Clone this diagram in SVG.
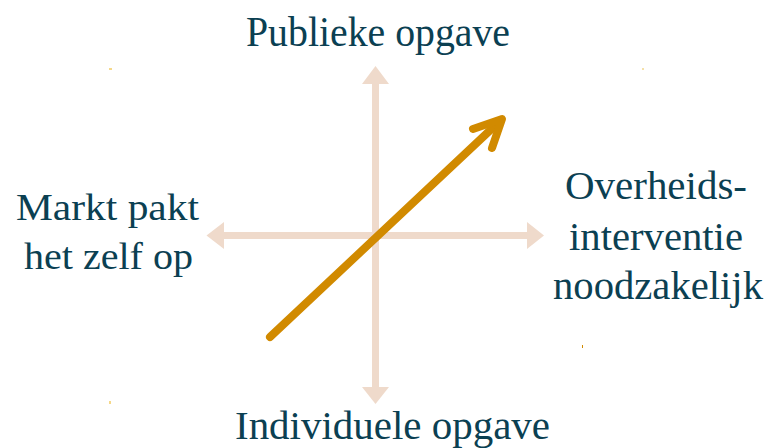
<svg xmlns="http://www.w3.org/2000/svg" width="768" height="448" viewBox="0 0 768 448">
<style>
.lbl{font-family:"Liberation Serif","Times New Roman",serif;fill:#0b4052;text-anchor:middle}
.axis{stroke:#efdacb;stroke-width:7;fill:none}
.head{fill:#efdacb}
.diag{stroke:#d18a00;stroke-width:8;fill:none;stroke-linecap:round;stroke-linejoin:round}
</style>
<rect width="768" height="448" fill="#ffffff"/>
<g id="connectors">
<line class="axis" x1="375.5" y1="82" x2="375.5" y2="389"/>
<polygon class="head" points="375.5,66 362,84 389,84"/>
<polygon class="head" points="375.5,404 362,387 389,387"/>
<line class="axis" x1="222" y1="235.5" x2="529" y2="235.5"/>
<polygon class="head" points="206.5,235.5 224,222 224,249"/>
<polygon class="head" points="544,235.5 527,222 527,249"/>
<line class="diag" x1="270" y1="337" x2="500" y2="121"/>
<polyline class="diag" points="473,129 502,119 492,148"/>
</g>
<g id="node-top"><text class="lbl" x="378" y="46" font-size="42" textLength="264" lengthAdjust="spacingAndGlyphs">Publieke opgave</text></g>
<g id="node-bottom"><text class="lbl" x="392.5" y="439" font-size="39.5" textLength="315" lengthAdjust="spacingAndGlyphs">Individuele opgave</text></g>
<g id="node-left">
<text class="lbl" x="107.5" y="220" font-size="38" textLength="183" lengthAdjust="spacingAndGlyphs">Markt pakt</text>
<text class="lbl" x="108.5" y="269" font-size="38" textLength="169" lengthAdjust="spacingAndGlyphs">het zelf op</text>
</g>
<g id="node-right">
<text class="lbl" x="656" y="199" font-size="39.5" textLength="182" lengthAdjust="spacingAndGlyphs">Overheids-</text>
<text class="lbl" x="656" y="250" font-size="39.5" textLength="174" lengthAdjust="spacingAndGlyphs">interventie</text>
<text class="lbl" x="658" y="299" font-size="39.5" textLength="210" lengthAdjust="spacingAndGlyphs">noodzakelijk</text>
</g>
<g id="specks">
<rect x="109" y="68" width="3" height="2" fill="#f5d88a"/>
<rect x="642" y="68" width="2" height="2" fill="#f5e0a8"/>
<rect x="109" y="401" width="2" height="3" fill="#f5d88a"/>
<rect x="582" y="345" width="1" height="3" fill="#d18a00"/>
</g>
</svg>
